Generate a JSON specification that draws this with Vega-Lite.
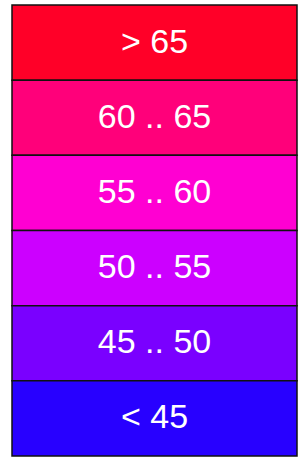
{
  "$schema": "https://vega.github.io/schema/vega-lite/v6.json",
  "autosize": {"type": "fit", "contains": "padding"},
  "width": 303,
  "height": 459,
  "padding": {"left": 11, "right": 5, "top": 4, "bottom": 2},
  "background": "white",
  "config": {"view": {"stroke": null}},
  "data": {"values": [
    {"label": "> 65", "color": "#FF0028"},
    {"label": "60 .. 65", "color": "#FF007A"},
    {"label": "55 .. 60", "color": "#FF00D2"},
    {"label": "50 .. 55", "color": "#CC00FF"},
    {"label": "45 .. 50", "color": "#7A00FF"},
    {"label": "< 45", "color": "#2800FF"}
  ]},
  "encoding": {
    "y": {"field": "label", "type": "nominal", "sort": null, "axis": null,
          "scale": {"paddingInner": 0, "paddingOuter": 0}}
  },
  "layer": [
    {
      "mark": {"type": "rect", "stroke": "#111111", "strokeWidth": 1.5},
      "encoding": {
        "x": {"datum": 0, "type": "quantitative", "scale": {"domain": [0, 1], "nice": false, "zero": false}, "axis": null},
        "x2": {"datum": 1},
        "color": {"field": "color", "type": "nominal", "scale": null, "legend": null}
      }
    },
    {
      "mark": {"type": "text", "color": "white", "font": "Liberation Sans", "fontSize": 34, "baseline": "middle", "align": "center"},
      "encoding": {
        "x": {"datum": 0.5, "type": "quantitative"},
        "text": {"field": "label"}
      }
    }
  ]
}
